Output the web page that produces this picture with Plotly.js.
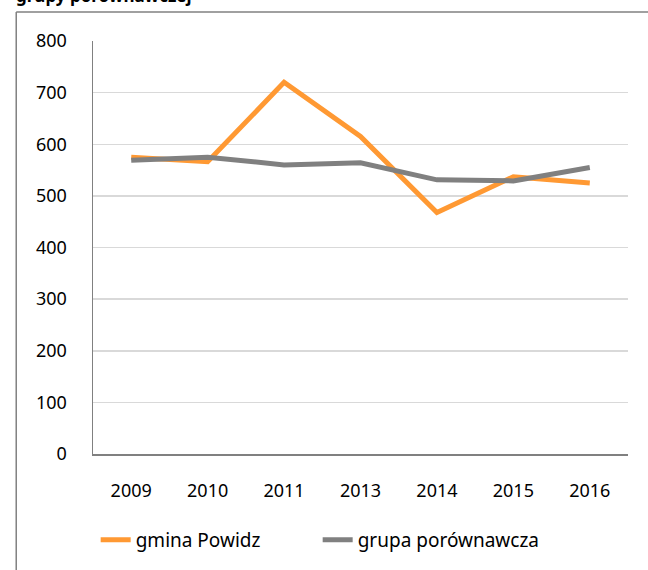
<!DOCTYPE html>
<html>
<head>
<meta charset="utf-8">
<script src="https://cdn.plot.ly/plotly-3.0.1.min.js"></script>
<style>html,body{margin:0;padding:0;background:#fff;}#chart{width:648px;height:570px;}</style>
</head>
<body>
<div id="chart"></div>
<script>
var years = ["2009", "2010", "2011", "2013", "2014", "2015", "2016"];
var gminaPowidz = [575, 566, 720, 615, 468, 537, 525];
var grupaPorownawcza = [569, 575, 560, 564, 531, 529, 555];
var seriesNames = ["gmina Powidz", "grupa porównawcza"];
var titleText = "grupy porównawczej";

var FONT = "Noto Sans, sans-serif";

var traces = [
  {x: years, y: gminaPowidz, name: seriesNames[0], type: "scatter", mode: "lines",
   line: {color: "#FF9933", width: 5, shape: "linear"}},
  {x: years, y: grupaPorownawcza, name: seriesNames[1], type: "scatter", mode: "lines",
   line: {color: "#808080", width: 5, shape: "linear"}}
];

var layout = {
  width: 648, height: 570,
  margin: {l: 93, r: 20, t: 41, b: 115, pad: 0},
  paper_bgcolor: "#fff", plot_bgcolor: "#fff",
  font: {family: FONT, size: 18, color: "#000"},
  showlegend: true,
  legend: {orientation: "h", x: 0.005, xanchor: "left", y: -0.205, yanchor: "middle",
           entrywidth: 177, entrywidthmode: "pixels",
           font: {family: FONT, size: 19, color: "#000"}, bgcolor: "rgba(0,0,0,0)"},
  xaxis: {type: "category", range: [-0.5, 6.5], showgrid: false, zeroline: false,
          showline: true, linecolor: "#808080", linewidth: 1.5,
          ticks: "", ticklabelstandoff: 20, tickfont: {family: FONT, size: 18}},
  yaxis: {range: [0, 800], dtick: 100, tick0: 0, showgrid: true, gridcolor: "#d9d9d9", gridwidth: 1.5,
          zeroline: false, showline: true, linecolor: "#808080", linewidth: 1.5,
          ticks: "", ticklabelstandoff: 21, tickfont: {family: FONT, size: 18}},
  annotations: [
    {text: "<b>" + titleText + "</b>", xref: "paper", yref: "paper",
     x: -0.148, xanchor: "left", y: 1.0775, yanchor: "bottom", showarrow: false,
     font: {family: FONT, size: 17, color: "#000"}}
  ],
  shapes: [
    {type: "line", xref: "paper", yref: "paper", x0: -0.1435, x1: -0.1435, y0: -0.3, y1: 1.07,
     line: {color: "#808080", width: 1.5}},
    {type: "line", xref: "paper", yref: "paper", x0: -0.1435, x1: 1.1, y0: 1.07, y1: 1.07,
     line: {color: "#808080", width: 1.5}}
  ]
};

Plotly.newPlot("chart", traces, layout, {displayModeBar: false, staticPlot: true});
</script>
</body>
</html>
